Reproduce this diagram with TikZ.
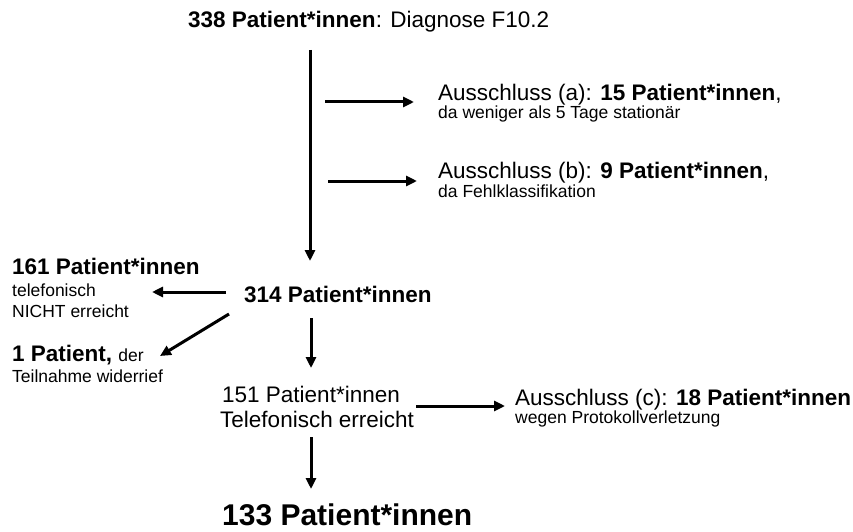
\documentclass[tikz,border=0pt]{standalone}
\usepackage{fontspec}
\setmainfont{Liberation Sans}
\usetikzlibrary{arrows.meta}
\begin{document}
\begin{tikzpicture}[x=1pt,y=-1pt,
  big/.style={inner sep=0pt,anchor=base west,font=\fontsize{22.5}{26}\selectfont},
  small/.style={inner sep=0pt,anchor=base west,font=\fontsize{17.5}{21}\selectfont},
  huge/.style={inner sep=0pt,anchor=base west,font=\fontsize{30}{34}\selectfont\bfseries},
  arr/.style={line width=3pt,-{Triangle[length=11pt,width=10pt]}}]
\useasboundingbox (0,0) rectangle (853,532);
\node[big] (t) at (188,28) {\textbf{338 Patient*innen}: Diagnose F10.2};
\node[big] (a) at (438,101) {Ausschluss (a): \textbf{15 Patient*innen},};
\node[small] (a2) at (438,118) {da weniger als 5 Tage stationär};
\node[big] (b) at (438,178) {Ausschluss (b): \textbf{9 Patient*innen},};
\node[small] (b2) at (438,197) {da Fehlklassifikation};
\node[big] (l1) at (12,274) {\textbf{161 Patient*innen}};
\node[small] (l2) at (12,296) {telefonisch};
\node[small] (l3) at (12,317) {NICHT erreicht};
\node[big] (m) at (244,302) {\textbf{314 Patient*innen}};
\node[big] (p1) at (12,361) {\textbf{1 Patient,} {\fontsize{17.5}{21}\selectfont der}};
\node[small] (p2) at (12,382) {Teilnahme widerrief};
\node[big] (n1) at (222,402) {151 Patient*innen};
\node[big] (n2) at (220,427) {Telefonisch erreicht};
\node[big] (c) at (515,405) {Ausschluss (c): \textbf{18 Patient*innen}};
\node[small] (c2) at (515,423) {wegen Protokollverletzung};
\node[huge] (f) at (222,525) {133 Patient*innen};
\coordinate (v0) at (310,50); \coordinate (v1) at (310,261);
\coordinate (a0) at (325,102); \coordinate (a1) at (414,102);
\coordinate (b0) at (328,181); \coordinate (b1) at (417,181);
\coordinate (l0) at (226,292); \coordinate (l9) at (152,292);
\coordinate (d0) at (229,314); \coordinate (d1) at (160,356);
\coordinate (m0) at (311,318); \coordinate (m1) at (311,368);
\coordinate (c0) at (416,406); \coordinate (c1) at (505,406);
\coordinate (n0) at (311,437); \coordinate (n9) at (311,489);
\draw[arr] (v0) -- (v1);
\draw[arr] (a0) -- (a1);
\draw[arr] (b0) -- (b1);
\draw[arr] (l0) -- (l9);
\draw[arr] (d0) -- (d1);
\draw[arr] (m0) -- (m1);
\draw[arr] (c0) -- (c1);
\draw[arr] (n0) -- (n9);
\end{tikzpicture}
\end{document}
